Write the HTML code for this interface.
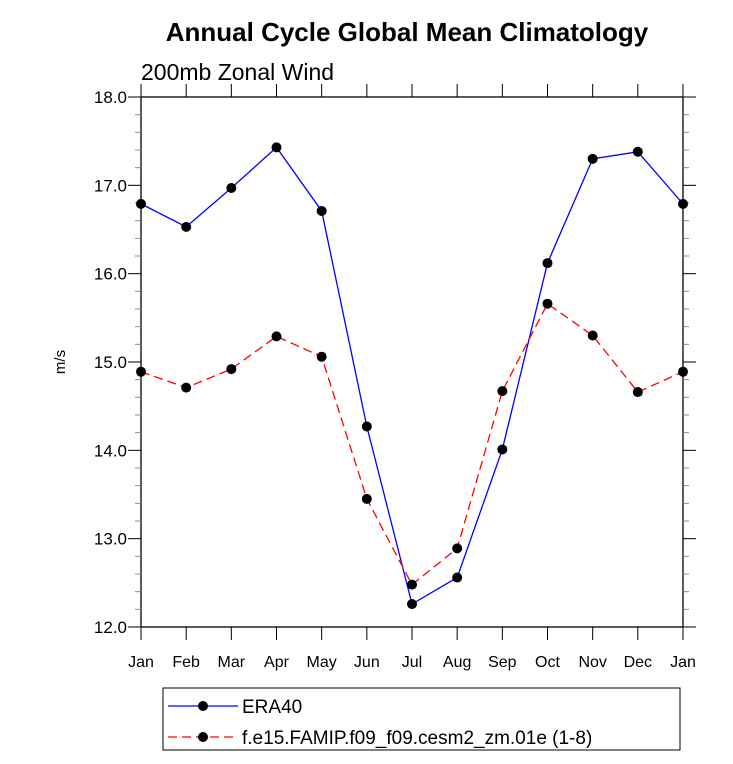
<!DOCTYPE html>
<html><head><meta charset="utf-8"><style>body{margin:0;background:#fff}svg{display:block;font-family:"Liberation Sans",sans-serif}</style></head>
<body>
<svg id="c" width="733" height="764">
<text x="407" y="41" text-anchor="middle" font-size="26" font-weight="bold">Annual Cycle Global Mean Climatology</text>
<text x="141" y="80" font-size="23">200mb Zonal Wind</text>
<text transform="translate(65,362) rotate(-90)" text-anchor="middle" font-size="15">m/s</text>
<g id="axes"></g><g id="series"></g>
<rect x="163" y="688" width="517" height="62" fill="none" stroke="#000"/>
<g><line x1="168" y1="706" x2="238" y2="706" stroke="#00f" stroke-width="1.3"/><circle cx="203" cy="706" r="5"/><text x="242" y="713" font-size="19">ERA40</text></g>
<g><line x1="168" y1="737" x2="238" y2="737" stroke="#f00" stroke-width="1.3" stroke-dasharray="9,5"/><circle cx="203" cy="737" r="5"/><text x="242" y="744" font-size="19">f.e15.FAMIP.f09_f09.cesm2_zm.01e (1-8)</text></g>
</svg>
<script>
const months=["Jan","Feb","Mar","Apr","May","Jun","Jul","Aug","Sep","Oct","Nov","Dec","Jan"];
const era40=[16.79,16.53,16.97,17.43,16.71,14.27,12.26,12.56,14.01,16.12,17.30,17.38,16.79];
const model=[14.89,14.71,14.92,15.29,15.06,13.45,12.48,12.89,14.67,15.66,15.30,14.66,14.89];
const yTicks=["12.0","13.0","14.0","15.0","16.0","17.0","18.0"];
const L=141,R=683,T=97,B=627,ymin=12,ymax=18;
const xs=i=>L+i*(R-L)/12, ys=v=>B-(v-ymin)*(B-T)/(ymax-ymin);
const NS="http://www.w3.org/2000/svg";
function mk(t,a,p){const e=document.createElementNS(NS,t);for(const k in a)e.setAttribute(k,a[k]);p.appendChild(e);return e;}
const ax=document.getElementById('axes');
const fr=mk('rect',{x:L,y:T,width:R-L,height:B-T,fill:'none',stroke:'#000','stroke-width':1.3},ax);


months.forEach((m,i)=>{const x=xs(i);
mk('line',{x1:x,y1:B,x2:x,y2:B+13,stroke:'#000'},ax);mk('line',{x1:x,y1:T,x2:x,y2:T-13,stroke:'#000'},ax);
const t=mk('text',{x:x,y:B+40,'text-anchor':'middle','font-size':16},ax);t.textContent=m;

});
for(let k=0;k<=30;k++){const v=ymin+k*0.2,y=ys(v),maj=k%5==0,len=maj?13:6;
mk('line',{x1:L,y1:y,x2:L-len,y2:y,stroke:maj?'#000':'#888'},ax);mk('line',{x1:R,y1:y,x2:R+len,y2:y,stroke:maj?'#000':'#888'},ax);}
yTicks.forEach(s=>{const t=mk('text',{x:L-14,y:ys(+s)+6,'text-anchor':'end','font-size':17},ax);t.textContent=s;

});
const sg=document.getElementById('series');
function draw(d,col,dash,name){const g=mk('g',{},sg);


mk('polyline',{points:d.map((v,i)=>xs(i)+','+ys(v)).join(' '),fill:'none',stroke:col,'stroke-width':1.3,'stroke-dasharray':dash},g);
d.forEach((v,i)=>mk('circle',{cx:xs(i),cy:ys(v),r:5,fill:'#000'},g));}
draw(era40,'#00f','none','series-era40');
draw(model,'#f00','9,5','series-model');
</script>
</body></html>
